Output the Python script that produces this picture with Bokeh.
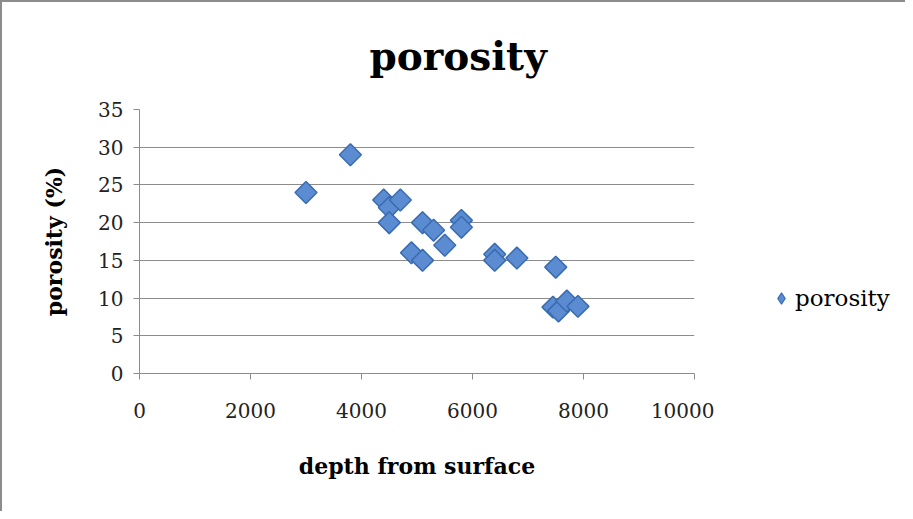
import numpy as np
from bokeh.plotting import figure
from bokeh.layouts import row
from bokeh.models import Range1d, FixedTicker, Legend, LegendItem, ColumnDataSource
from bokeh.embed import file_html
from bokeh.resources import INLINE

# data
depth = [3000, 3800, 4400, 4500, 4500, 4700, 4900, 5100, 5100, 5300, 5500,
         5800, 5800, 6400, 6400, 6800, 7500, 7450, 7550, 7700, 7900]
porosity = [24, 29, 23, 22, 20, 23, 16, 20, 15, 19, 17,
            20.3, 19.4, 15.8, 15, 15.3, 14.1, 8.8, 8.3, 9.6, 8.9]
x_ticks = [0, 2000, 4000, 6000, 8000, 10000]
y_ticks = [0, 5, 10, 15, 20, 25, 30, 35]
series_name = "porosity"

SERIF = "DejaVu Serif"
GREY = "#8c8c8c"
FILL = "#5b8bd0"
EDGE = "#3a6cb2"

p = figure(width=712, height=509, output_backend="svg", toolbar_location=None,
           x_range=Range1d(0, 10000), y_range=Range1d(0, 35),
           min_border_left=137, min_border_top=107, min_border_bottom=138,
           min_border_right=20)
p.outline_line_color = None

p.title.text = "porosity"
p.title.text_font = SERIF
p.title.text_font_size = "39px"
p.title.text_font_style = "bold"
p.title.text_color = "#000000"
p.title.align = "left"
p.title.vertical_align = "top"
p.title.offset = 230
p.title.standoff = 58

src = ColumnDataSource(dict(x=depth, y=porosity))
p.scatter("x", "y", source=src, marker="square", angle=np.pi / 4, size=15.5,
          fill_color=FILL, line_color=EDGE, line_width=1.5)

for ax in (p.xaxis[0], p.yaxis[0]):
    ax.axis_line_color = GREY
    ax.major_tick_line_color = GREY
    ax.minor_tick_line_color = None
    ax.major_tick_in = 0
    ax.major_tick_out = 6
    ax.major_label_text_font = SERIF
    ax.major_label_text_font_size = "20px"
    ax.major_label_text_color = "#222222"
    ax.axis_label_text_font = SERIF
    ax.axis_label_text_font_style = "bold"
    ax.axis_label_text_font_size = "22px"
    ax.axis_label_text_color = "#000000"

p.xaxis.ticker = FixedTicker(ticks=x_ticks)
p.yaxis.ticker = FixedTicker(ticks=y_ticks)
p.xaxis.axis_label = "depth from surface"
p.yaxis.axis_label = "porosity (%)"
p.xaxis.major_label_standoff = 23
p.xaxis.axis_label_standoff = 32
p.yaxis.major_label_standoff = 10
p.yaxis.axis_label_standoff = 28

p.xgrid.grid_line_color = None
p.ygrid.grid_line_color = GREY
p.ygrid.grid_line_width = 1

# legend panel to the right of the plot (same data, outside its view range)
q = figure(width=191, height=509, output_backend="svg", toolbar_location=None,
           x_range=Range1d(0, 1), y_range=Range1d(0, 1),
           min_border_left=0, min_border_right=0, min_border_top=107,
           min_border_bottom=138)
q.outline_line_color = None
q.axis.visible = False
q.grid.visible = False
lr = q.scatter("x", "y", source=src, marker="diamond", size=15.5,
               fill_color=FILL, line_color=EDGE, line_width=1.2)
legend = Legend(items=[LegendItem(label=series_name, renderers=[lr], index=0)],
                location=(53, 61), border_line_color=None,
                background_fill_alpha=0, label_text_font=SERIF,
                label_text_color="#000000",
                label_text_font_size="23px", glyph_width=28, glyph_height=28,
                label_standoff=0, padding=0, margin=0)
q.add_layout(legend, "center")

layout = row(p, q, spacing=0)
layout.styles = {"border-top": "2px solid #8c8c8c", "border-left": "2px solid #8c8c8c"}

open("out.html", "w").write(file_html(layout, INLINE))
